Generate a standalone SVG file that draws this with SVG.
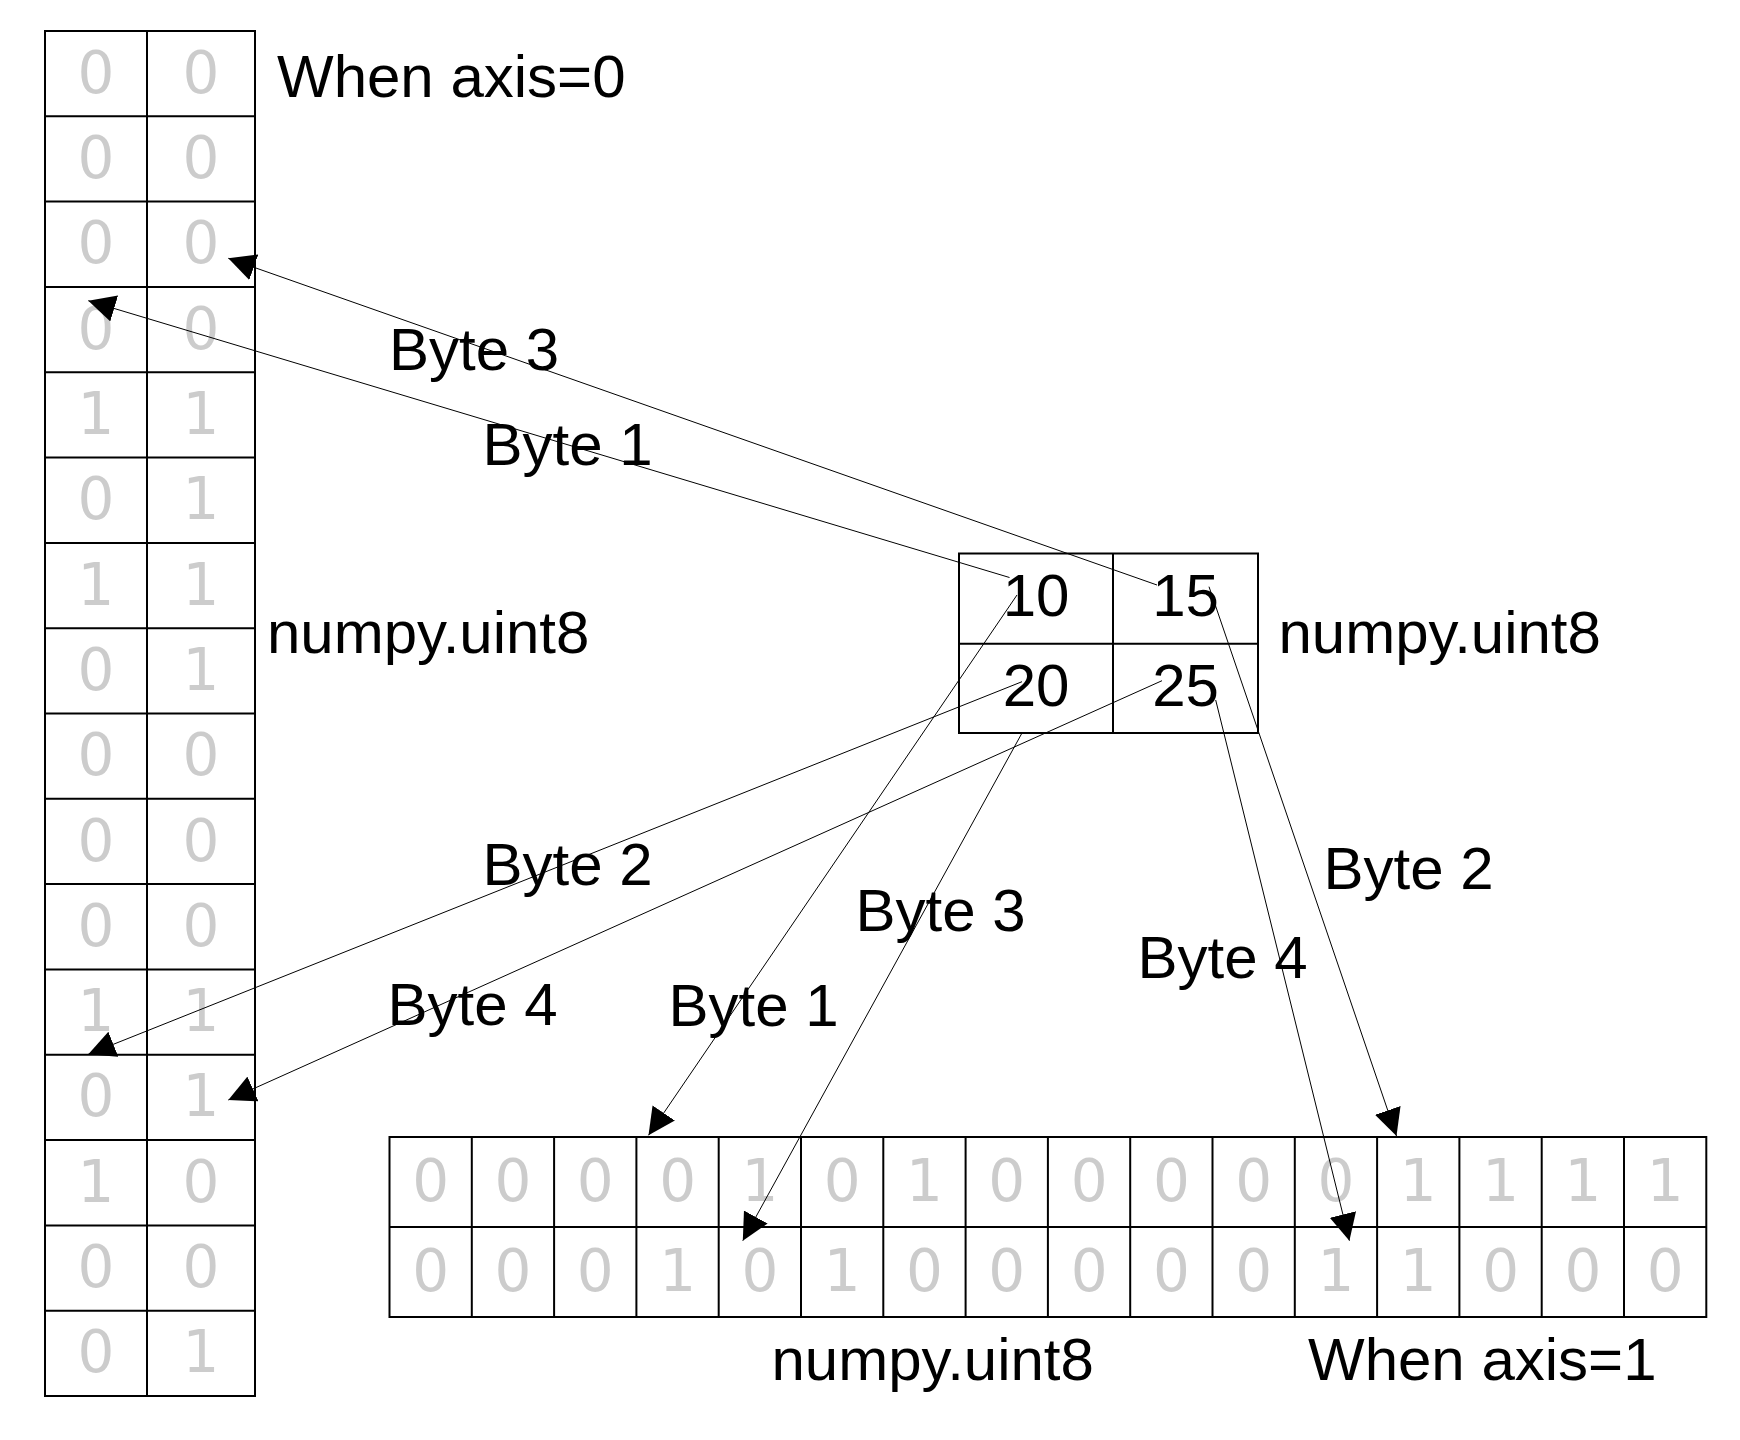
<svg xmlns="http://www.w3.org/2000/svg" width="1740" height="1440" viewBox="0 0 1740 1440">
<defs>
<style>
.grid{fill:none;stroke:#000;stroke-width:2}
.bit{font-family:"DejaVu Sans",sans-serif;font-size:58px;fill:#cccccc;text-anchor:middle}
.num{font-family:"Liberation Sans",Arial,sans-serif;font-size:60px;fill:#000;text-anchor:middle}
.lbl{font-family:"Liberation Sans",Arial,sans-serif;font-size:60px;fill:#000}
.byte{font-family:"Liberation Sans",Arial,sans-serif;font-size:60px;fill:#000}
.conn{stroke:#000;stroke-width:1;fill:none;marker-end:url(#arr)}
</style>
<marker id="arr" viewBox="0 0 27 27" refX="27" refY="13.5" markerWidth="27" markerHeight="27" markerUnits="userSpaceOnUse" orient="auto">
<path d="M0,0 L27,13.5 L0,27 Z" fill="#000"/>
</marker>
</defs>
<rect width="1740" height="1440" fill="#fff"/>

<g id="axis0-array">
<rect class="grid" x="45" y="31" width="210" height="1365"/>
<path class="grid" d="M147,31V1396M45,116.3H255M45,201.6H255M45,286.9H255M45,372.3H255M45,457.6H255M45,542.9H255M45,628.2H255M45,713.5H255M45,798.8H255M45,884.1H255M45,969.4H255M45,1054.8H255M45,1140.1H255M45,1225.4H255M45,1310.7H255"/>
<g class="bit">
<text x="96" y="92.7">0</text><text x="201" y="92.7">0</text>
<text x="96" y="178">0</text><text x="201" y="178">0</text>
<text x="96" y="263.3">0</text><text x="201" y="263.3">0</text>
<text x="96" y="348.6">0</text><text x="201" y="348.6">0</text>
<text x="96" y="433.9">1</text><text x="201" y="433.9">1</text>
<text x="96" y="519.2">0</text><text x="201" y="519.2">1</text>
<text x="96" y="604.5">1</text><text x="201" y="604.5">1</text>
<text x="96" y="689.8">0</text><text x="201" y="689.8">1</text>
<text x="96" y="775.2">0</text><text x="201" y="775.2">0</text>
<text x="96" y="860.5">0</text><text x="201" y="860.5">0</text>
<text x="96" y="945.8">0</text><text x="201" y="945.8">0</text>
<text x="96" y="1031.1">1</text><text x="201" y="1031.1">1</text>
<text x="96" y="1116.4">0</text><text x="201" y="1116.4">1</text>
<text x="96" y="1201.7">1</text><text x="201" y="1201.7">0</text>
<text x="96" y="1287">0</text><text x="201" y="1287">0</text>
<text x="96" y="1372.3">0</text><text x="201" y="1372.3">1</text>
</g>
</g>

<g id="source-array">
<rect class="grid" x="959" y="553.5" width="299" height="179.5"/>
<path class="grid" d="M1113,553.5V733M959,643.7H1258"/>
<text class="num" x="1036" y="616">10</text>
<text class="num" x="1185.5" y="616">15</text>
<text class="num" x="1036" y="705.7">20</text>
<text class="num" x="1185.5" y="705.7">25</text>
</g>

<g id="axis1-array">
<rect class="grid" x="389.5" y="1137" width="1316.8" height="180"/>
<path class="grid" d="M389.5,1227H1706.3M471.8,1137V1317M554.1,1137V1317M636.4,1137V1317M718.7,1137V1317M801,1137V1317M883.3,1137V1317M965.6,1137V1317M1047.9,1137V1317M1130.2,1137V1317M1212.5,1137V1317M1294.8,1137V1317M1377.1,1137V1317M1459.4,1137V1317M1541.7,1137V1317M1624,1137V1317"/>
<g class="bit">
<text x="430.7" y="1200.5">0</text><text x="513" y="1200.5">0</text><text x="595.3" y="1200.5">0</text><text x="677.6" y="1200.5">0</text>
<text x="759.9" y="1200.5">1</text><text x="842.2" y="1200.5">0</text><text x="924.5" y="1200.5">1</text><text x="1006.8" y="1200.5">0</text>
<text x="1089.1" y="1200.5">0</text><text x="1171.4" y="1200.5">0</text><text x="1253.7" y="1200.5">0</text><text x="1336" y="1200.5">0</text>
<text x="1418.3" y="1200.5">1</text><text x="1500.6" y="1200.5">1</text><text x="1582.9" y="1200.5">1</text><text x="1665.2" y="1200.5">1</text>
<text x="430.7" y="1290.5">0</text><text x="513" y="1290.5">0</text><text x="595.3" y="1290.5">0</text><text x="677.6" y="1290.5">1</text>
<text x="759.9" y="1290.5">0</text><text x="842.2" y="1290.5">1</text><text x="924.5" y="1290.5">0</text><text x="1006.8" y="1290.5">0</text>
<text x="1089.1" y="1290.5">0</text><text x="1171.4" y="1290.5">0</text><text x="1253.7" y="1290.5">0</text><text x="1336" y="1290.5">1</text>
<text x="1418.3" y="1290.5">1</text><text x="1500.6" y="1290.5">0</text><text x="1582.9" y="1290.5">0</text><text x="1665.2" y="1290.5">0</text>
</g>
</g>

<g id="captions">
<text class="lbl" x="277" y="96.7">When axis=0</text>
<text class="lbl" x="267" y="653">numpy.uint8</text>
<text class="lbl" x="1278.5" y="653">numpy.uint8</text>
<text class="lbl" x="771.5" y="1380">numpy.uint8</text>
<text class="lbl" x="1308" y="1380">When axis=1</text>
</g>

<g id="connectors">
<line class="conn" x1="1157" y1="585" x2="228.3" y2="258.3"/>
<line class="conn" x1="1009.5" y1="577.5" x2="88.3" y2="300.7"/>
<line class="conn" x1="1022" y1="681.7" x2="88.3" y2="1054.3"/>
<line class="conn" x1="1162" y1="680.7" x2="228.3" y2="1100"/>
<line class="conn" x1="1017" y1="595" x2="648.5" y2="1135.3"/>
<line class="conn" x1="1022" y1="733" x2="742.8" y2="1240.7"/>
<line class="conn" x1="1209" y1="586.7" x2="1396.5" y2="1136"/>
<line class="conn" x1="1215.7" y1="700" x2="1349.4" y2="1240.7"/>
</g>

<g id="connector-labels">
<text class="byte" x="389" y="370">Byte 3</text>
<text class="byte" x="482.5" y="465">Byte 1</text>
<text class="byte" x="482.5" y="885">Byte 2</text>
<text class="byte" x="387.5" y="1025">Byte 4</text>
<text class="byte" x="855.5" y="931">Byte 3</text>
<text class="byte" x="668.5" y="1026">Byte 1</text>
<text class="byte" x="1323.5" y="889">Byte 2</text>
<text class="byte" x="1137.5" y="978">Byte 4</text>
</g>
</svg>
